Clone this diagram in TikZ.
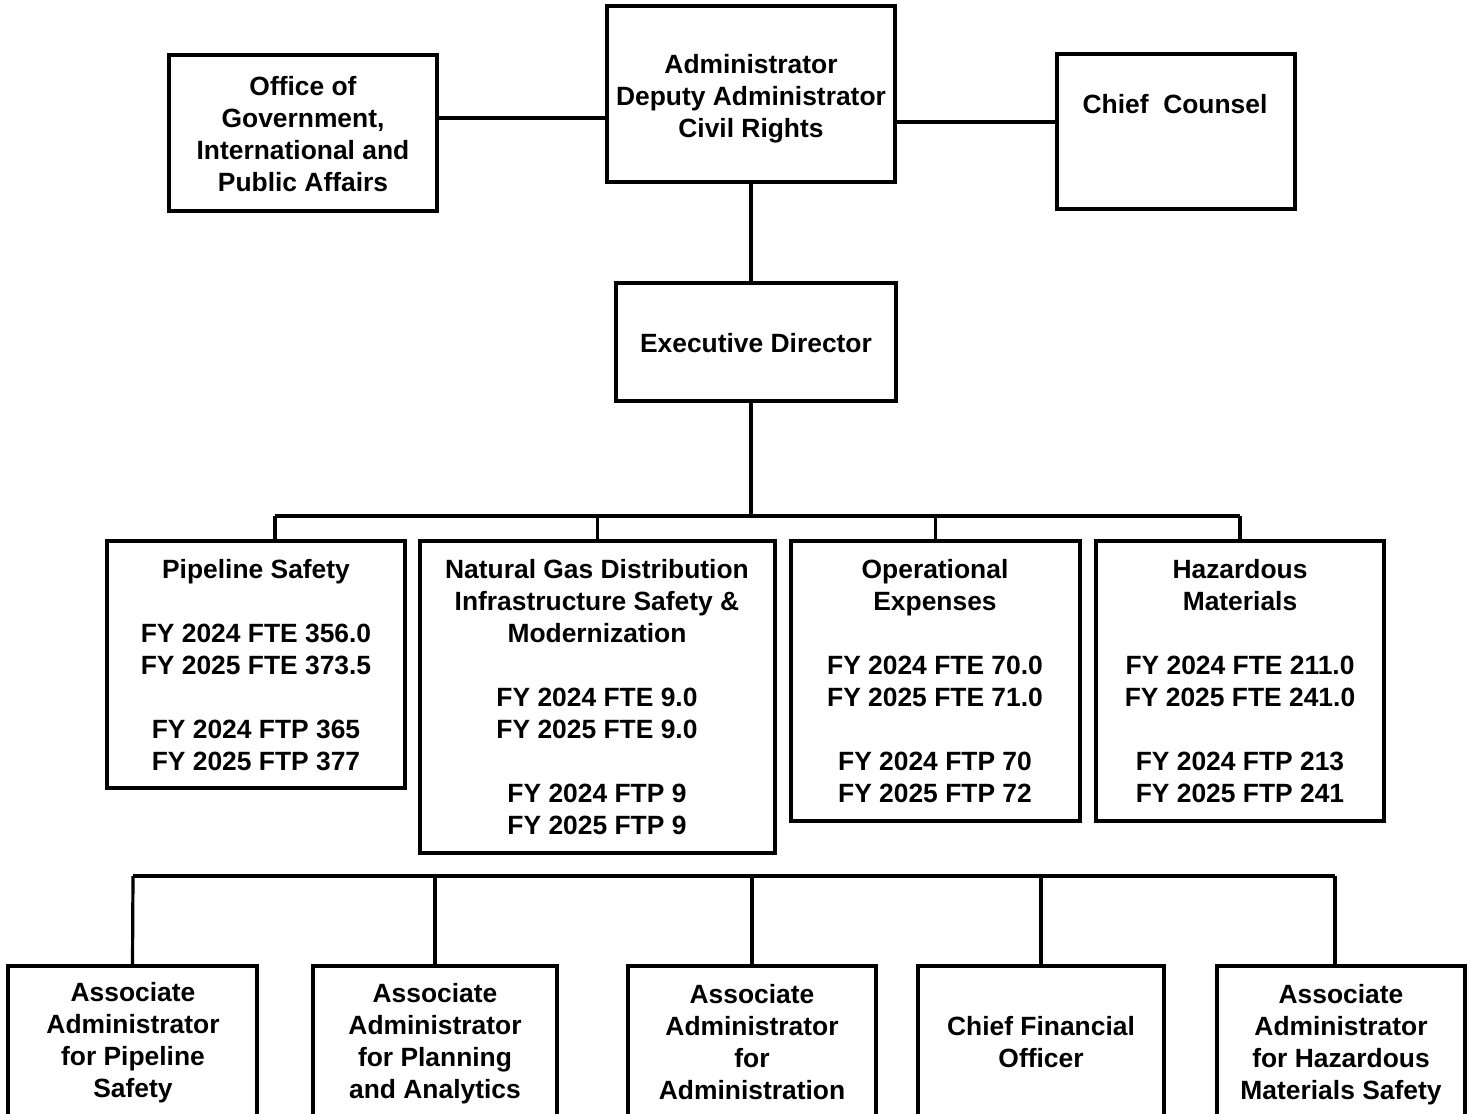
\documentclass[tikz,border=0pt]{standalone}
\usepackage{fontspec}
\setmainfont{Liberation Sans}
\begin{document}
\begin{tikzpicture}[x=0.5pt,y=-0.5pt,
  bx/.style 2 args={draw, rectangle, line width=1.8pt, inner sep=0pt,
    minimum width=#1*0.5pt, minimum height=#2*0.5pt},
  lbl/.style={font=\bfseries\fontsize{13.2}{16}\selectfont, align=center, anchor=base, inner sep=0pt},
  conn/.style={line width=1.6pt}]
\useasboundingbox (0,0) rectangle (1473,1114);
\clip (0,0) rectangle (1473,1114);
% boxes
\node[bx={268}{156}] (off) at (303,133) {};
\node[bx={288}{176}] (adm) at (751,94) {};
\node[bx={238}{155}] (cc) at (1176,131.5) {};
\node[bx={280}{118}] (ed) at (756,342) {};
\node[bx={298}{247}] (ps) at (256,664.5) {};
\node[bx={355}{312}] (ng) at (597.5,697) {};
\node[bx={289}{280}] (op) at (935.5,681) {};
\node[bx={288}{280}] (hz) at (1240,681) {};
\node[bx={249}{180}] (b1) at (132.5,1056) {};
\node[bx={244}{180}] (b2) at (435,1056) {};
\node[bx={248}{180}] (b3) at (752,1056) {};
\node[bx={246}{180}] (b4) at (1041,1056) {};
\node[bx={248}{180}] (b5) at (1341,1056) {};
% texts (anchor = baseline of last line)
\node[lbl] (toff) at (303,191.5) {Office of\\Government,\\International and\\Public Affairs};
\node[lbl] (tadm) at (751,137) {Administrator\\Deputy Administrator\\Civil Rights};
\node[lbl] (tcc) at (1175,113) {Chief\ \ Counsel};
\node[lbl] (ted) at (756,352) {Executive Director};
\node[lbl] (tps) at (256,770) {Pipeline Safety\\[16pt]FY 2024 FTE 356.0\\FY 2025 FTE 373.5\\[16pt]FY 2024 FTP 365\\FY 2025 FTP 377};
\node[lbl] (tng) at (597,834) {Natural Gas Distribution\\Infrastructure Safety \&\\Modernization\\[16pt]FY 2024 FTE 9.0\\FY 2025 FTE 9.0\\[16pt]FY 2024 FTP 9\\FY 2025 FTP 9};
\node[lbl] (top) at (935,802) {Operational\\Expenses\\[16pt]FY 2024 FTE 70.0\\FY 2025 FTE 71.0\\[16pt]FY 2024 FTP 70\\FY 2025 FTP 72};
\node[lbl] (thz) at (1240,802) {Hazardous\\Materials\\[16pt]FY 2024 FTE 211.0\\FY 2025 FTE 241.0\\[16pt]FY 2024 FTP 213\\FY 2025 FTP 241};
\node[lbl] (tb1) at (133,1097) {Associate\\Administrator\\for Pipeline\\Safety};
\node[lbl] (tb2) at (435,1098) {Associate\\Administrator\\for Planning\\and Analytics};
\node[lbl] (tb3) at (752,1099) {Associate\\Administrator\\for\\Administration};
\node[lbl] (tb4) at (1041,1067) {Chief Financial\\Officer};
\node[lbl] (tb5) at (1341,1099) {Associate\\Administrator\\for Hazardous\\Materials Safety};
% connectors
\coordinate (yl) at (0,118);
\coordinate (yr) at (0,122);
\coordinate (busL) at (275,516);
\coordinate (busR) at (1240,516);
\coordinate (bbL) at (133,876);
\coordinate (bbR) at (1335,876);
\draw[conn] (off.east |- yl) -- (adm.west |- yl);
\draw[conn] (adm.east |- yr) -- (cc.west |- yr);
\draw[conn] (adm.south) -- (adm.south |- ed.north);
\draw[conn] (ed.south -| adm.south) -- (adm.south |- busL);
\draw[conn] (busL) -- (busR);
\draw[conn] (busL) -- (busL |- ps.north);
\draw[conn] (ng.north |- busL) -- (ng.north);
\draw[conn] (op.north |- busL) -- (op.north);
\draw[conn] (busR) -- (hz.north);
\draw[conn] (bbL) -- (bbR);
\draw[conn] (bbL) -- (b1.north);
\draw[conn] (b2.north |- bbL) -- (b2.north);
\draw[conn] (b3.north |- bbL) -- (b3.north);
\draw[conn] (b4.north |- bbL) -- (b4.north);
\draw[conn] (bbR) -- (bbR |- b5.north);
\end{tikzpicture}
\end{document}
